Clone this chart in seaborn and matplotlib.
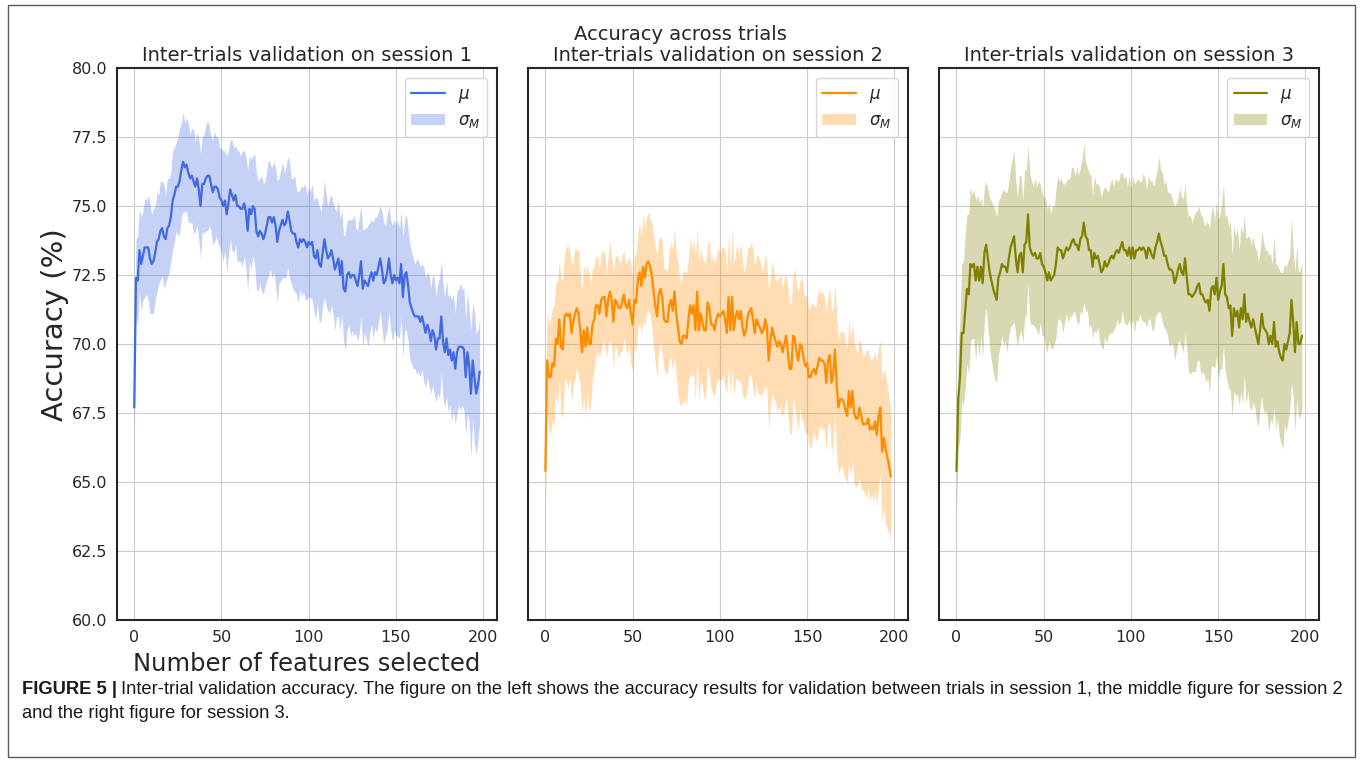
import numpy as np
import pandas as pd
import seaborn as sns
import matplotlib.pyplot as plt
from matplotlib.patches import Rectangle


# mean accuracy (%) per number of selected features, x = 0..198
mean_s1 = [
	67.7, 72.4, 72.3, 73.4, 72.9, 73.2, 73.5, 73.5, 73.5, 73.1,
	72.9, 73.0, 73.3, 73.7, 73.8, 74.1, 74.2, 73.9, 73.8, 74.2,
	74.3, 74.6, 75.2, 75.4, 75.7, 75.7, 75.9, 76.3, 76.6, 76.4,
	76.5, 76.2, 76.0, 76.1, 75.9, 75.7, 76.0, 75.6, 75.0, 75.8,
	75.8, 76.0, 76.1, 76.1, 75.8, 75.5, 75.7, 75.7, 75.6, 75.3,
	75.2, 75.0, 75.2, 74.7, 75.1, 75.6, 75.4, 75.2, 75.4, 75.0,
	75.0, 74.9, 74.9, 75.1, 74.8, 74.1, 74.9, 74.7, 75.0, 74.9,
	74.1, 73.9, 74.1, 74.0, 73.8, 74.0, 74.3, 74.6, 74.6, 74.4,
	74.6, 74.3, 73.7, 74.1, 74.3, 74.5, 74.3, 74.4, 74.8, 74.5,
	74.1, 74.0, 74.0, 73.7, 73.5, 73.8, 73.7, 73.8, 73.7, 73.5,
	73.7, 73.6, 73.7, 73.2, 73.1, 73.4, 72.9, 72.8, 73.3, 73.8,
	73.4, 73.1, 73.2, 73.4, 73.1, 72.7, 72.9, 73.1, 72.5, 73.0,
	72.0, 71.9, 72.5, 72.6, 72.4, 72.5, 72.5, 72.3, 72.1, 72.5,
	73.0, 72.0, 72.3, 72.2, 72.1, 72.4, 72.6, 72.3, 72.6, 72.5,
	72.8, 73.1, 72.7, 72.2, 72.3, 72.6, 73.1, 72.5, 72.2, 72.5,
	72.3, 72.4, 72.2, 72.9, 71.7, 72.5, 72.6, 72.1, 71.5, 71.3,
	71.1, 71.0, 71.0, 71.0, 70.8, 71.0, 70.7, 70.4, 70.7, 70.5,
	70.1, 70.5, 70.3, 69.8, 70.2, 70.2, 71.0, 70.1, 69.7, 70.2,
	69.6, 69.8, 69.4, 69.7, 69.1, 69.7, 69.9, 69.9, 69.9, 69.8,
	68.8, 69.7, 69.2, 68.2, 69.4, 68.8, 68.2, 68.5, 69.0]

sd_s1 = [
	1.5, 1.4, 1.6, 1.5, 1.7, 1.6, 1.8, 1.7, 1.9, 2.0,
	1.8, 1.9, 1.7, 1.8, 1.6, 1.8, 1.7, 1.9, 1.6, 1.8,
	1.7, 1.6, 1.8, 1.7, 1.6, 1.8, 1.9, 1.7, 1.8, 1.6,
	1.7, 1.8, 1.6, 1.7, 1.9, 1.6, 1.7, 1.8, 1.9, 1.7,
	1.8, 1.9, 2.0, 1.8, 1.7, 1.9, 2.0, 1.8, 1.9, 1.8,
	1.9, 2.0, 1.8, 2.1, 1.9, 1.8, 2.0, 1.9, 1.8, 2.0,
	2.0, 1.9, 2.1, 1.9, 2.0, 2.2, 1.9, 2.0, 1.8, 2.0,
	2.1, 2.0, 1.9, 2.1, 2.0, 1.9, 2.0, 2.1, 1.9, 2.0,
	2.0, 2.1, 2.2, 1.9, 2.0, 2.1, 1.9, 2.0, 2.0, 2.1,
	1.9, 2.0, 2.1, 1.9, 2.0, 1.8, 2.0, 1.9, 2.1, 1.9,
	2.0, 1.9, 2.1, 2.0, 2.2, 1.9, 2.1, 2.0, 1.9, 2.1,
	2.0, 1.9, 2.1, 2.0, 2.0, 2.2, 1.9, 2.1, 2.0, 1.9,
	1.9, 2.1, 2.0, 1.9, 2.1, 2.0, 2.2, 1.9, 2.0, 2.1,
	2.0, 2.1, 1.9, 2.0, 2.2, 2.0, 1.9, 2.1, 2.0, 2.1,
	2.0, 1.9, 2.1, 2.2, 2.0, 2.1, 1.9, 2.0, 2.1, 2.0,
	2.0, 2.1, 2.0, 1.9, 2.2, 2.0, 2.1, 2.0, 2.1, 2.0,
	2.0, 1.9, 2.1, 2.0, 2.0, 1.9, 2.1, 2.0, 1.9, 2.0,
	1.9, 2.0, 2.1, 1.9, 2.0, 2.2, 2.0, 2.1, 2.0, 2.1,
	2.1, 2.0, 2.2, 2.1, 2.0, 2.2, 2.1, 2.3, 2.1, 2.2,
	2.1, 2.2, 2.0, 2.3, 2.1, 2.4, 2.2, 2.0, 1.9]

mean_s2 = [
	65.4, 69.4, 68.8, 68.8, 69.3, 69.2, 70.2, 70.0, 70.9, 69.9,
	69.8, 71.0, 71.1, 71.0, 71.1, 70.4, 70.8, 71.1, 71.3, 71.1,
	70.5, 69.7, 70.5, 69.9, 70.6, 70.0, 70.0, 70.7, 70.9, 71.4,
	71.4, 71.1, 71.6, 71.7, 71.7, 71.0, 71.6, 71.9, 71.6, 70.8,
	71.6, 71.5, 71.3, 71.3, 71.5, 71.8, 71.4, 71.3, 71.6, 71.1,
	70.7, 71.6, 71.5, 72.3, 72.6, 72.1, 72.8, 72.4, 72.9, 73.0,
	72.8, 72.5, 71.9, 71.4, 71.0, 71.8, 72.0, 71.7, 70.9, 70.8,
	70.8, 71.4, 71.6, 71.2, 71.9, 71.1, 70.6, 70.1, 70.0, 70.3,
	70.3, 70.2, 70.9, 71.4, 71.1, 71.4, 70.5, 71.9, 70.5, 71.1,
	70.8, 70.5, 70.5, 71.5, 71.3, 70.7, 70.7, 70.5, 70.9, 71.1,
	71.0, 71.1, 71.2, 70.9, 70.4, 71.7, 70.5, 71.7, 70.5, 71.0,
	71.2, 70.9, 71.2, 70.6, 70.3, 70.5, 71.0, 71.2, 71.3, 70.9,
	70.4, 70.9, 70.7, 70.6, 70.4, 70.5, 70.9, 70.6, 69.4, 70.1,
	70.6, 70.3, 70.1, 69.9, 70.1, 70.0, 69.7, 70.0, 70.3, 69.7,
	69.1, 69.1, 70.3, 70.2, 69.7, 69.4, 70.0, 69.9, 69.5, 69.2,
	69.3, 68.8, 68.8, 69.0, 69.1, 68.9, 69.2, 69.5, 69.4, 69.4,
	69.3, 68.6, 69.4, 69.6, 68.6, 68.9, 69.8, 68.5, 67.7, 68.0,
	68.0, 67.9, 67.6, 67.4, 68.3, 67.7, 68.3, 67.5, 67.3, 67.3,
	67.7, 67.4, 67.1, 67.1, 67.1, 67.3, 66.9, 67.0, 66.9, 67.2,
	66.7, 67.4, 67.7, 66.1, 66.6, 66.2, 65.9, 65.6, 65.2]

sd_s2 = [
	2.0, 1.8, 1.9, 2.1, 2.0, 2.2, 2.0, 2.3, 2.1, 2.4,
	2.5, 2.3, 2.4, 2.6, 2.3, 2.5, 2.2, 2.4, 2.1, 2.3,
	2.0, 2.2, 2.4, 2.6, 2.3, 2.5, 2.2, 2.0, 1.9, 1.8,
	1.7, 1.6, 1.8, 1.6, 1.7, 1.5, 1.6, 1.8, 1.6, 1.7,
	1.6, 1.7, 1.8, 1.6, 1.7, 1.6, 1.5, 1.7, 1.6, 1.8,
	1.7, 1.6, 1.8, 1.7, 1.8, 1.7, 1.9, 1.8, 1.7, 1.8,
	1.7, 1.9, 2.0, 2.1, 2.2, 2.0, 1.9, 2.0, 1.8, 1.9,
	1.8, 2.0, 2.1, 2.2, 2.3, 2.2, 2.4, 2.3, 2.2, 2.4,
	2.3, 2.4, 2.2, 2.5, 2.3, 2.4, 2.6, 2.3, 2.5, 2.4,
	2.3, 2.5, 2.4, 2.2, 2.4, 2.3, 2.5, 2.4, 2.3, 2.4,
	2.3, 2.4, 2.3, 2.5, 2.2, 2.4, 2.3, 2.5, 2.4, 2.3,
	2.4, 2.3, 2.5, 2.4, 2.3, 2.4, 2.5, 2.3, 2.4, 2.5,
	2.4, 2.3, 2.5, 2.4, 2.3, 2.2, 2.4, 2.3, 2.5, 2.3,
	2.4, 2.3, 2.2, 2.4, 2.3, 2.5, 2.3, 2.4, 2.2, 2.3,
	2.3, 2.4, 2.2, 2.5, 2.4, 2.5, 2.3, 2.6, 2.4, 2.5,
	2.5, 2.4, 2.6, 2.5, 2.3, 2.4, 2.6, 2.5, 2.4, 2.5,
	2.4, 2.5, 2.3, 2.4, 2.6, 2.4, 2.3, 2.5, 2.4, 2.5,
	2.4, 2.6, 2.5, 2.4, 2.6, 2.5, 2.4, 2.6, 2.5, 2.4,
	2.5, 2.6, 2.4, 2.5, 2.7, 2.5, 2.6, 2.4, 2.6, 2.5,
	2.6, 2.5, 2.4, 2.6, 2.5, 2.7, 2.6, 2.5, 2.3]

mean_s3 = [
	65.4, 68.0, 68.8, 70.4, 70.4, 71.2, 72.0, 71.8, 72.9, 72.8,
	72.9, 72.3, 72.8, 72.3, 72.8, 72.2, 73.3, 73.6, 73.1, 72.6,
	72.3, 72.0, 71.8, 71.6, 72.4, 72.6, 72.9, 72.8, 72.8, 72.6,
	73.1, 73.5, 73.7, 73.9, 73.1, 72.6, 73.2, 73.3, 72.6, 73.6,
	73.7, 74.7, 73.5, 73.3, 73.2, 73.3, 73.1, 73.1, 73.3, 72.9,
	72.8, 72.6, 72.3, 72.6, 72.3, 72.4, 72.5, 72.9, 73.5, 73.4,
	73.4, 73.1, 73.3, 73.5, 73.4, 73.5, 73.7, 73.8, 73.6, 73.6,
	73.4, 73.8, 73.9, 74.4, 73.9, 73.8, 73.4, 73.4, 72.8, 73.3,
	73.1, 73.2, 72.9, 72.6, 72.7, 73.0, 72.8, 72.9, 73.1, 73.2,
	73.1, 73.3, 73.4, 73.3, 73.5, 73.7, 73.4, 73.4, 73.2, 73.5,
	73.1, 73.5, 73.1, 73.4, 73.4, 73.5, 73.4, 73.5, 73.4, 73.1,
	73.5, 73.4, 73.2, 73.1, 73.5, 73.7, 74.0, 73.7, 73.5, 73.2,
	73.2, 72.9, 72.7, 72.7, 72.6, 72.2, 72.4, 72.7, 72.9, 72.6,
	72.5, 73.1, 72.4, 71.8, 71.8, 71.7, 71.8, 71.9, 72.1, 72.2,
	71.8, 71.8, 71.6, 71.5, 71.6, 71.2, 72.0, 72.1, 71.8, 72.4,
	71.6, 71.9, 72.1, 72.9, 71.8, 71.7, 71.3, 71.4, 70.3, 71.3,
	71.0, 71.2, 70.6, 71.3, 70.9, 71.8, 70.8, 71.1, 70.8, 70.6,
	70.9, 70.6, 70.3, 70.0, 70.5, 71.1, 70.6, 70.5, 70.4, 70.0,
	70.3, 70.0, 70.8, 69.9, 70.1, 69.7, 69.5, 69.4, 70.0, 69.8,
	70.1, 70.4, 71.6, 70.8, 69.7, 70.8, 70.0, 70.0, 70.3]

sd_s3 = [
	1.5, 1.8, 2.2, 2.5, 2.6, 2.8, 2.7, 2.9, 2.8, 2.6,
	2.7, 2.9, 2.6, 2.8, 2.5, 2.7, 2.4, 2.3, 2.5, 2.7,
	2.9, 3.0, 3.1, 3.0, 2.8, 2.7, 2.6, 2.8, 2.7, 2.9,
	2.8, 2.9, 3.0, 3.1, 2.8, 2.7, 2.9, 2.8, 2.6, 2.7,
	2.6, 2.5, 2.7, 2.6, 2.5, 2.7, 2.6, 2.8, 2.5, 2.6,
	2.5, 2.7, 2.6, 2.5, 2.4, 2.6, 2.5, 2.7, 2.6, 2.5,
	2.6, 2.7, 2.5, 2.4, 2.6, 2.5, 2.7, 2.6, 2.5, 2.8,
	2.7, 2.6, 2.8, 2.9, 2.7, 2.6, 2.8, 2.7, 2.6, 2.8,
	2.7, 2.6, 2.8, 2.7, 2.9, 2.7, 2.8, 2.6, 2.7, 2.8,
	2.6, 2.7, 2.5, 2.6, 2.7, 2.5, 2.6, 2.7, 2.5, 2.6,
	2.5, 2.6, 2.7, 2.5, 2.6, 2.4, 2.5, 2.7, 2.6, 2.5,
	2.6, 2.5, 2.7, 2.6, 2.5, 2.6, 2.8, 2.6, 2.7, 2.6,
	2.7, 2.6, 2.8, 2.7, 2.6, 2.8, 2.7, 2.6, 2.8, 2.7,
	2.8, 2.7, 2.6, 2.8, 2.9, 2.7, 2.8, 2.9, 2.7, 2.8,
	2.9, 2.8, 2.7, 2.9, 2.8, 3.0, 2.8, 2.9, 2.7, 2.8,
	2.9, 2.8, 3.0, 2.9, 2.8, 3.0, 2.9, 3.1, 2.9, 3.0,
	2.9, 3.0, 2.8, 3.0, 3.1, 2.9, 3.0, 2.8, 3.1, 3.0,
	3.0, 2.9, 3.1, 3.0, 2.8, 3.0, 3.1, 2.9, 3.0, 3.2,
	3.0, 2.9, 3.1, 3.0, 2.8, 3.0, 3.1, 3.2, 2.9, 3.0,
	2.9, 2.8, 3.0, 2.7, 2.9, 2.8, 2.6, 2.7, 2.6]

sessions = ["session 1", "session 2", "session 3"]
colors = ["royalblue", "darkorange", "olive"]
yticks = [60.0, 62.5, 65.0, 67.5, 70.0, 72.5, 75.0, 77.5, 80.0]
xticks = [0, 50, 100, 150, 200]

caption_bold = "FIGURE 5 |"
caption_line1 = ("Inter-trial validation accuracy. The figure on the left shows the accuracy results "
	"for validation between trials in session 1, the middle figure for session 2")
caption_line2 = "and the right figure for session 3."


def session_frame(mean, sd):
	df = pd.DataFrame({"mean": mean, "sd": sd})
	df["features"] = np.arange(len(df))
	df["low"] = df["mean"] - df["sd"]
	df["high"] = df["mean"] + df["sd"]
	return df


sns.set_style("whitegrid", {"axes.edgecolor": "0.15", "grid.color": "0.8"})
plt.rcParams["font.family"] = ["DejaVu Sans"]

fig, axes = plt.subplots(1, 3, sharey=True, figsize=(13.6, 7.61), dpi=100)
fig.subplots_adjust(left=0.086, right=0.970, bottom=0.1853, top=0.9106, wspace=0.082)

all_means = [mean_s1, mean_s2, mean_s3]
all_sds = [sd_s1, sd_s2, sd_s3]

for ax, session, color, mean, sd in zip(axes, sessions, colors, all_means, all_sds):
	df = session_frame(mean, sd)
	sns.lineplot(data=df, x="features", y="mean", color=color, linewidth=1.6, ax=ax, label=r"$\mu$")
	ax.fill_between(df["features"], df["low"], df["high"], color=color, alpha=0.3,
		linewidth=0, label=r"$\sigma_M$")

	ax.set_title("Inter-trials validation on {}".format(session), fontsize=14, pad=5)
	ax.set_ylim(60, 80)
	ax.set_yticks(yticks)
	ax.set_xticks(xticks)
	ax.tick_params(labelsize=11.5)
	ax.set_xlabel("")
	ax.set_ylabel("")
	for spine in ax.spines.values():
		spine.set_linewidth(1.5)
	ax.legend(loc="upper right", fontsize=12, handlelength=2.0, labelspacing=0.4,
		borderaxespad=0.6)

axes[0].set_yticklabels(["{:.1f}".format(t) for t in yticks])
axes[0].set_ylabel("Accuracy (%)", fontsize=21)
axes[0].yaxis.set_label_coords(-0.125, 0.536)
axes[0].set_xlabel("Number of features selected", fontsize=17.5, labelpad=5)

fig.suptitle("Accuracy across trials", fontsize=14, y=0.955, va="center")

# caption and frame of the published figure
fig.add_artist(Rectangle((8 / 1360, 1 - 757 / 761), 1347 / 1360, 752 / 761,
	transform=fig.transFigure, fill=False, edgecolor="0.35", linewidth=1))

cap_font = ["Liberation Sans", "DejaVu Sans"]
cap_size = 13.2
t_bold = fig.text(22 / 1360, 1 - 689 / 761, caption_bold, fontsize=cap_size, fontweight="bold",
	family=cap_font, va="center", color="0.1")
fig.canvas.draw()
bb = t_bold.get_window_extent()
fig.text((bb.x1 + 4) / (fig.get_figwidth() * fig.dpi), 1 - 689 / 761, caption_line1,
	fontsize=cap_size, family=cap_font, va="center", color="0.1")
fig.text(22 / 1360, 1 - 714 / 761, caption_line2, fontsize=cap_size, family=cap_font,
	va="center", color="0.1")

fig.savefig("out.png", dpi=100)
